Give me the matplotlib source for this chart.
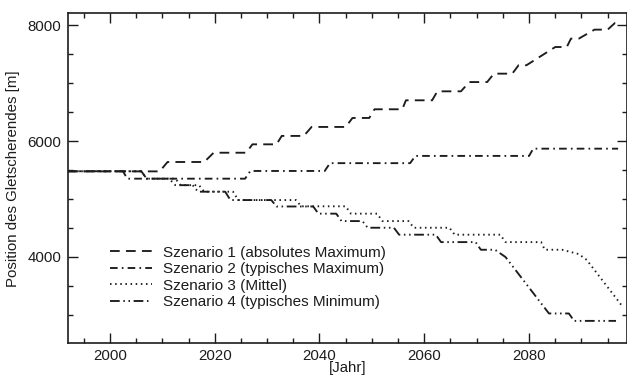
import matplotlib
matplotlib.use("Agg")
import matplotlib.pyplot as plt
from matplotlib.ticker import MultipleLocator

plt.rcParams['font.family'] = ['Liberation Sans', 'DejaVu Sans']
plt.rcParams['lines.scale_dashes'] = False

# ---- data ----
labels = ["Szenario 1 (absolutes Maximum)",
          "Szenario 2 (typisches Maximum)",
          "Szenario 3 (Mittel)",
          "Szenario 4 (typisches Minimum)"]

s1_years = [1992, 2009.5, 2011, 2018, 2019.8, 2026, 2027.2, 2031.8, 2032.8, 2037,
            2038.5, 2045, 2046.3, 2049.5, 2050.5, 2055.8, 2056.5, 2061.5, 2062.5, 2067,
            2068.6, 2072, 2073.3, 2076.8, 2078, 2079.5, 2085, 2087.2, 2088, 2089.5,
            2092.5, 2095, 2096.4, 2097]
s1_vals = [5478, 5478, 5640, 5640, 5800, 5800, 5945, 5945, 6090, 6090,
           6245, 6245, 6400, 6400, 6550, 6550, 6705, 6705, 6860, 6860,
           7020, 7020, 7165, 7165, 7310, 7310, 7625, 7625, 7770, 7770,
           7925, 7925, 8040, 8040]

s2_years = [1992, 2002.5, 2003.3, 2025.8, 2026.8, 2041, 2042, 2057.3, 2058.3, 2080, 2080.8, 2097]
s2_vals = [5480, 5480, 5352, 5352, 5485, 5485, 5620, 5620, 5745, 5745, 5870, 5870]

s3_years = [1992, 2006, 2007, 2012.5, 2013.5, 2017, 2018, 2023.5, 2024.5, 2035.5,
            2036.5, 2045, 2046, 2051, 2052, 2057, 2058, 2064.8, 2065.8, 2074.5,
            2075.5, 2082.3, 2083, 2086.3, 2089.5, 2091, 2097.8]
s3_vals = [5480, 5480, 5352, 5352, 5240, 5240, 5127, 5127, 4983, 4983,
           4875, 4875, 4748, 4748, 4620, 4620, 4505, 4505, 4385, 4385,
           4257, 4257, 4125, 4125, 4050, 3950, 3150]

s4_years = [1992, 2006, 2007, 2011.3, 2012.5, 2015.8, 2016.8, 2022, 2023, 2030.8,
            2031.8, 2038.8, 2039.8, 2043.2, 2044.2, 2048.2, 2049.2, 2054.2, 2055.2, 2062.2,
            2063.2, 2069.8, 2070.8, 2073.5, 2075.5, 2083.8, 2087.6, 2088.6, 2096.6]
s4_vals = [5480, 5480, 5352, 5352, 5240, 5240, 5127, 5127, 4983, 4983,
           4872, 4872, 4748, 4748, 4620, 4620, 4505, 4505, 4385, 4385,
           4257, 4257, 4125, 4125, 4000, 3025, 3025, 2897, 2897]

x_ticks = [2000, 2020, 2040, 2060, 2080]
y_ticks = [4000, 6000, 8000]

# ---- figure ----
fig = plt.figure(figsize=(6.27, 3.78), dpi=100)
ax = fig.add_axes([68/627, 1 - 343.3/378, (626.5-68)/627, (343.3-13.3)/378])

col = "#1c1c1c"
lw = 1.35
styles = [(0, (7, 4.5)),
          (0, (5.5, 3, 1.2, 3)),
          (0, (1.1, 2.6)),
          (0, (7, 2.6, 1.1, 2.6, 1.1, 2.6))]
series = [(s1_years, s1_vals), (s2_years, s2_vals), (s3_years, s3_vals), (s4_years, s4_vals)]
for (xs, ys), ls, lab in zip(series, styles, labels):
    ax.plot(xs, ys, color=col, lw=lw, linestyle=ls, label=lab)

ax.set_xlim(1992, 2098.6)
ax.set_ylim(2510, 8207)
ax.set_xticks(x_ticks)
ax.set_yticks(y_ticks)
ax.xaxis.set_minor_locator(MultipleLocator(5))
ax.yaxis.set_minor_locator(MultipleLocator(500))
ax.tick_params(which='both', direction='in', top=True, right=True, colors=col,
               labelsize=10.8, width=1.0)
ax.tick_params(which='major', length=7, pad=5)
ax.tick_params(which='minor', length=3.5)
ax.tick_params(axis='x', which='major', pad=4)
for s in ax.spines.values():
    s.set_color(col)
    s.set_linewidth(1.2)

ax.set_xlabel("[Jahr]", fontsize=10.8, labelpad=-1, color=col)
ax.set_ylabel("Position des Gletscherendes [m]", fontsize=10.8, labelpad=5, color=col)

leg = ax.legend(loc='center left', bbox_to_anchor=(110/627, 1 - 277.5/378),
                bbox_transform=fig.transFigure, frameon=False, fontsize=11,
                handlelength=2.75, handletextpad=0.7, labelspacing=0.17,
                borderpad=0, borderaxespad=0)
for t in leg.get_texts():
    t.set_color(col)

fig.savefig("out.png", dpi=100)
